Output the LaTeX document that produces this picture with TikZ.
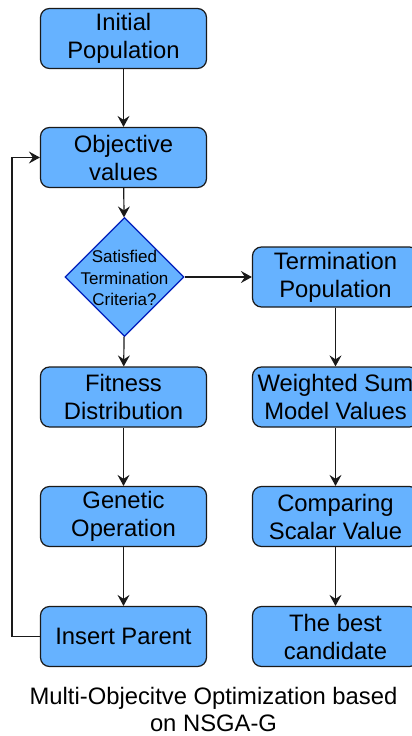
\documentclass[tikz,border=0pt]{standalone}
\usepackage{fontspec}
\setmainfont{Liberation Sans}
\usetikzlibrary{shapes.geometric,arrows.meta}
\definecolor{boxfill}{HTML}{66B2FF}
\definecolor{boxline}{HTML}{1A1A1A}
\definecolor{diaborder}{HTML}{001DBC}
\begin{document}
\begin{tikzpicture}[x=1pt,y=-1pt,
  box/.style={draw=boxline,fill=boxfill,rounded corners=9pt,line width=1.2pt,
    minimum width=166pt,minimum height=60pt,inner sep=0pt,align=center,
    font=\fontsize{23.8}{28}\selectfont},
  flow/.style={draw=boxline,line width=1.2pt,-{Stealth[length=11pt,width=12pt,inset=4pt]}}]
\useasboundingbox (0,0) rectangle (412,736);
\node[box] (init) at (123.5,38.5) {Initial\\Population};
\node[box] (obj) at (123.5,157.5) {Objective\\values};
\node[draw=diaborder,fill=boxfill,diamond,line width=1.2pt,minimum width=119pt,minimum height=119pt,inner sep=0pt] (dec) at (124.5,277) {};
\node[align=center,inner sep=0pt,font=\fontsize{17}{21.3}\selectfont] (dectext) at (124.5,278) {Satisfied\\Termination\\Criteria?};
\node[box] (fit) at (123.5,397) {Fitness\\Distribution};
\node[box] (gen) at (123.5,516.5) {Genetic\\Operation};
\node[box] (ins) at (123.5,636.5) {Insert Parent};
\node[box] (term) at (335.5,277) {Termination\\Population};
\node[box] (wsum) at (335.5,397) {Weighted Sum\\Model Values};
\node[box] (comp) at (335.5,516.5) {Comparing\\Scalar Value};
\node[box] (best) at (335.5,636.5) {The best\\candidate};
\node[align=center,inner sep=0pt,font=\fontsize{23.8}{27}\selectfont] (cap) at (213.5,709) {Multi-Objecitve Optimization based\\on NSGA-G};
\draw[flow] (init) -- (obj);
\draw[flow] (obj) -- (dec);
\draw[flow] (dec) -- (fit);
\draw[flow] (fit) -- (gen);
\draw[flow] (gen) -- (ins);
\draw[flow] (dec.east) -- (term.west);
\draw[flow] (term) -- (wsum);
\draw[flow] (wsum) -- (comp);
\draw[flow] (comp) -- (best);
\draw[flow] (ins.west) -| (12,157.5) -- (obj.west);
\end{tikzpicture}
\end{document}
